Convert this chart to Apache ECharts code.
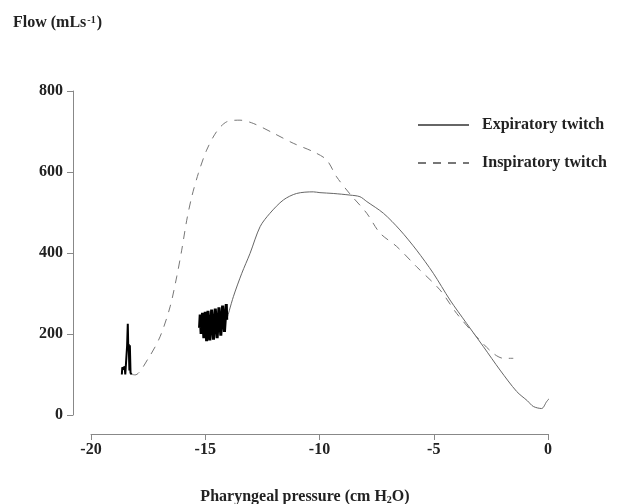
<!DOCTYPE html>
<html>
<head>
<meta charset="utf-8">
<script src="https://cdn.jsdelivr.net/npm/echarts@6/dist/echarts.min.js"></script>
<style>html,body{margin:0;padding:0;background:#fff;}#c{width:627px;height:504px;}</style>
</head>
<body>
<div id="c"></div>
<script>
// Pharyngeal pressure (cm H2O) and flow (mL/s)
var expP = [-14.06, -13.77, -13.4, -13.04, -12.6, -12.17, -11.58, -11.0, -10.27, -9.98, -9.4, -8.67, -8.23, -7.93, -7.2, -6.48, -5.75, -5.02, -4.29, -3.56, -2.83, -2.1, -1.37, -0.9, -0.64, -0.28, -0.06, 0.06];
var expF = [235, 292, 350, 399, 465, 498, 531, 547, 551, 549, 547, 543, 539, 527, 498, 457, 407, 350, 284, 226, 169, 111, 58, 35, 21, 16, 33, 41];

var inspP = [-18.2, -18.07, -17.49, -16.98, -16.54, -16.25, -16.03, -15.81, -15.59, -15.3, -14.94, -14.5, -14.06, -13.48, -12.9, -12.02, -11.15, -10.27, -9.69, -9.25, -8.67, -7.93, -7.35, -6.62, -5.75, -4.73, -4.0, -3.12, -2.39, -1.95, -1.52];
var inspF = [100, 99, 140, 193, 267, 341, 407, 481, 539, 597, 654, 700, 724, 728, 720, 696, 671, 650, 630, 588, 546, 498, 449, 416, 366, 309, 251, 193, 152, 140, 140];

// noisy onset segments (drawn solid)
var blobP = [-15.25, -15.22, -15.18, -15.12, -15.06, -15.0, -14.94, -14.88, -14.8, -14.72, -14.64, -14.56, -14.48, -14.4, -14.32, -14.24, -14.16, -14.08, -14.06];
var blobF = [215, 248, 200, 252, 190, 255, 182, 257, 184, 260, 186, 263, 190, 266, 196, 270, 205, 274, 235];
var spikeP = [-18.65, -18.63, -18.58, -18.53, -18.5, -18.46, -18.42, -18.39, -18.37, -18.35, -18.32, -18.3, -18.27, -18.22, -18.2];
var spikeF = [100, 118, 112, 120, 100, 104, 170, 225, 168, 175, 110, 172, 104, 100, 100];

var xTicks = [-20, -15, -10, -5, 0];
var yTicks = [0, 200, 400, 600, 800];
var seriesNames = ['Expiratory twitch', 'Inspiratory twitch'];

function zip(a, b) { return a.map(function (v, i) { return [v, b[i]]; }); }

var FONT = "'Liberation Serif', 'Times New Roman', serif";
var chart = echarts.init(document.getElementById('c'), null, { renderer: 'canvas' });
chart.setOption({
  backgroundColor: '#fff',
  animation: false,
  textStyle: { fontFamily: FONT },
  title: [{
    text: '{a|Flow (mLs}{s|-1}{a|)}',
    left: 8, top: 10,
    textStyle: {
      rich: {
        a: { fontFamily: FONT, fontWeight: 'bold', fontSize: 16, color: '#222' },
        s: { fontFamily: FONT, fontWeight: 'bold', fontSize: 10, color: '#222', verticalAlign: 'top', padding: [0, 1, 6, 1] }
      }
    }
  }, {
    text: '{a|Pharyngeal pressure (cm H}{s|2}{a|O)}',
    left: 300, top: 484, textAlign: 'center',
    textStyle: {
      rich: {
        a: { fontFamily: FONT, fontWeight: 'bold', fontSize: 16, color: '#222' },
        s: { fontFamily: FONT, fontWeight: 'bold', fontSize: 10, color: '#222', padding: [6, 0, 0, 0] }
      }
    }
  }],
  legend: {
    data: seriesNames,
    orient: 'vertical',
    left: 412, top: 112,
    itemWidth: 51, itemHeight: 14, itemGap: 22,
    itemStyle: { opacity: 0 },
    textStyle: { fontFamily: FONT, fontWeight: 'bold', fontSize: 16, color: '#222', padding: [0, 0, 0, 8] }
  },
  grid: { left: 91, right: 79, top: 91, bottom: 89 },
  xAxis: {
    type: 'value', min: xTicks[0], max: xTicks[xTicks.length - 1], interval: 5,
    offset: 19,
    axisLine: { onZero: false, lineStyle: { color: '#888', width: 1 } },
    axisTick: { length: 6, lineStyle: { color: '#888' } },
    splitLine: { show: false },
    axisLabel: { margin: 8, fontFamily: FONT, fontWeight: 'bold', fontSize: 16, color: '#222' }
  },
  yAxis: {
    type: 'value', min: yTicks[0], max: yTicks[yTicks.length - 1], interval: 200,
    position: 'left',
    offset: 18,
    axisLine: { show: true, onZero: false, lineStyle: { color: '#888', width: 1 } },
    axisTick: { show: true, length: 6, lineStyle: { color: '#888' } },
    splitLine: { show: false },
    axisLabel: { margin: 10, fontFamily: FONT, fontWeight: 'bold', fontSize: 16, color: '#222' }
  },
  series: [{
    name: seriesNames[0], type: 'line', data: zip(expP, expF), symbol: 'none', smooth: 0.3,
    lineStyle: { color: '#666', width: 1, type: 'solid' }, itemStyle: { color: '#666' }
  }, {
    name: seriesNames[1], type: 'line', data: zip(inspP, inspF), symbol: 'none', smooth: 0.3,
    lineStyle: { color: '#777', width: 1, type: [8, 7] }, itemStyle: { color: '#777' }
  }, {
    name: 'expOnset', type: 'line', data: zip(blobP, blobF), symbol: 'none',
    lineStyle: { color: '#000', width: 3 }, itemStyle: { color: '#000' }
  }, {
    name: 'inspOnset', type: 'line', data: zip(spikeP, spikeF), symbol: 'none',
    lineStyle: { color: '#000', width: 2 }, itemStyle: { color: '#000' }
  }]
});
</script>
</body>
</html>
